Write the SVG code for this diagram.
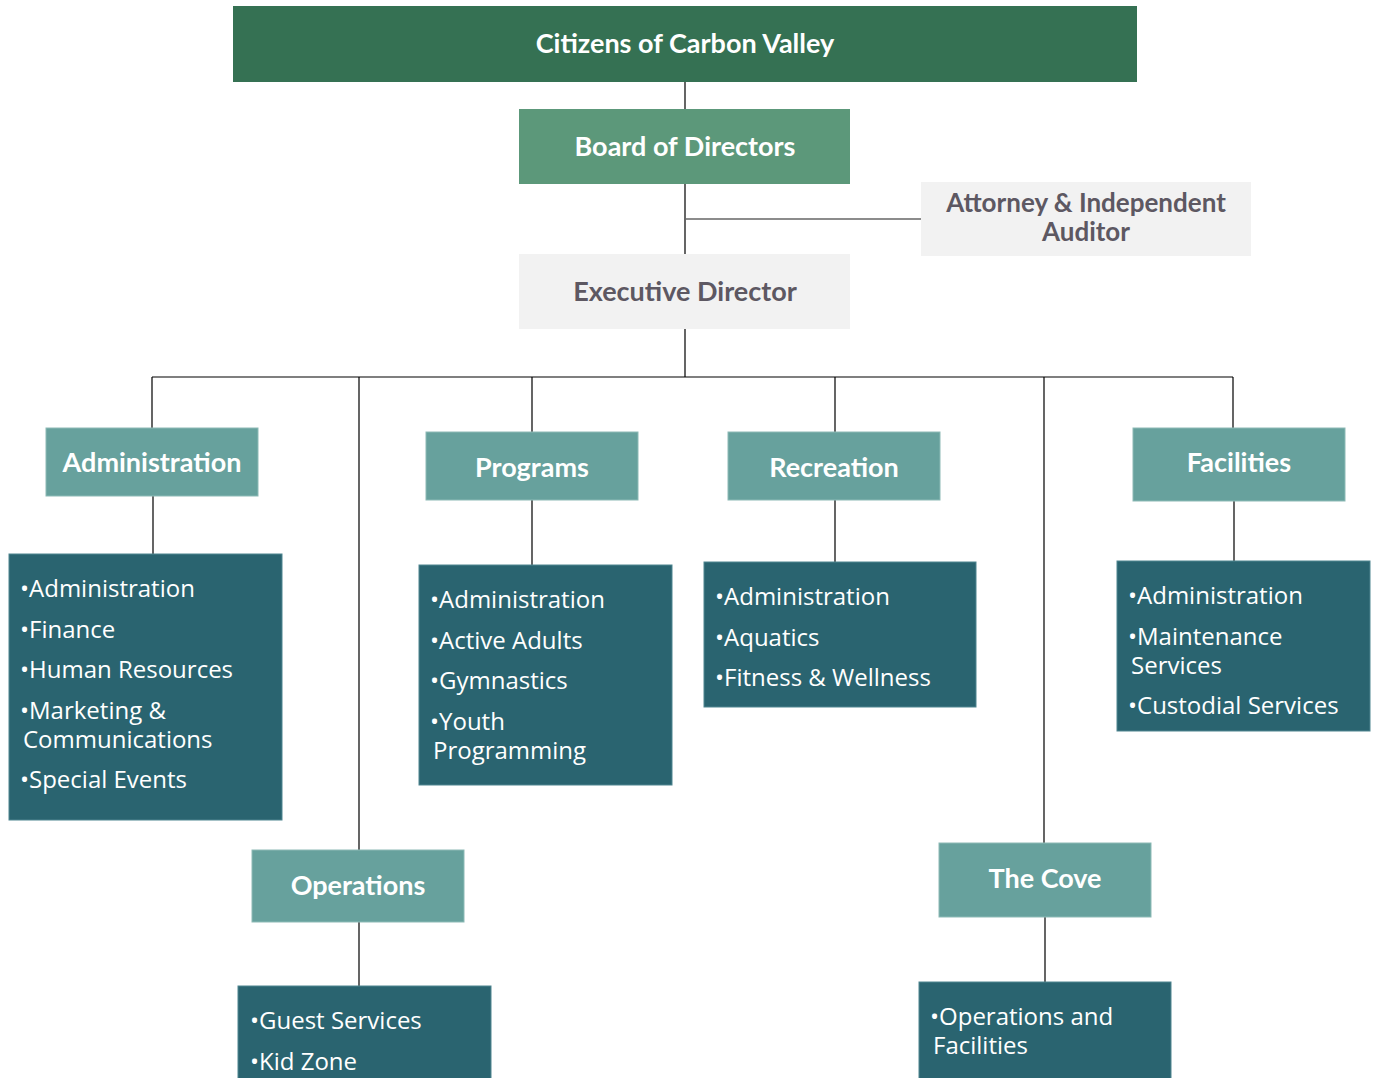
<svg xmlns="http://www.w3.org/2000/svg" width="1377" height="1078" viewBox="0 0 1377 1078">
<style>
.ttl{font-family:Lato,"Open Sans","Liberation Sans",sans-serif;font-weight:bold;font-size:27px;fill:#ffffff;text-anchor:middle}
.gray{fill:#5d5862}
.sm{font-size:26px}
.lst{font-family:"Open Sans","Noto Sans","Liberation Sans",sans-serif;font-size:24px;fill:#ffffff}
.dept{fill:#67a19d;stroke:#8dbab6;stroke-width:1}
.list{fill:#2a6470;stroke:#4f8590;stroke-width:1}
.ln{stroke:#000;stroke-width:1.2;fill:none}
</style>
<rect width="1377" height="1078" fill="#ffffff"/>
<g id="connectors">
<path class="ln" d="M685 82V254M685 329V377M152 377H1233"/>
<path d="M685 219H921" stroke="#666" stroke-width="1.5"/>
<path class="ln" d="M152 377V428M359 377V850M532 377V432M835 377V432M1044 377V843M1233 377V428"/>
<path class="ln" d="M153 496V554M532 500V565M835 500V562M1234 501V561M359 922V986M1045 917V982"/>
</g>
<g id="citizens"><rect x="233" y="6" width="904" height="76" fill="#357153"/><text class="ttl" x="685" y="53">Citizens of Carbon Valley</text></g>
<g id="board"><rect x="519" y="109" width="331" height="75" fill="#5c987a"/><text class="ttl" x="685" y="156">Board of Directors</text></g>
<g id="attorney"><rect x="921" y="182" width="330" height="74" fill="#f2f2f2"/><text class="ttl gray sm" x="1086" y="212">Attorney &amp; Independent</text><text class="ttl gray sm" x="1086" y="241">Auditor</text></g>
<g id="executive"><rect x="519" y="254" width="331" height="75" fill="#f2f2f2"/><text class="ttl gray" x="685" y="301">Executive Director</text></g>
<g id="administration"><rect class="dept" x="46" y="428" width="212" height="68"/><text class="ttl" x="152" y="472">Administration</text></g>
<g id="admin-list"><rect class="list" x="9" y="554" width="273" height="266"/>
<text class="lst" x="20" y="597">•Administration</text><text class="lst" x="20" y="638">•Finance</text><text class="lst" x="20" y="678">•Human Resources</text><text class="lst" x="20" y="719">•Marketing &amp;</text><text class="lst" x="23" y="748">Communications</text><text class="lst" x="20" y="788">•Special Events</text></g>
<g id="programs"><rect class="dept" x="426" y="432" width="212" height="68"/><text class="ttl" x="532" y="477">Programs</text></g>
<g id="programs-list"><rect class="list" x="419" y="565" width="253" height="220"/>
<text class="lst" x="430" y="608">•Administration</text><text class="lst" x="430" y="649">•Active Adults</text><text class="lst" x="430" y="689">•Gymnastics</text><text class="lst" x="430" y="730">•Youth</text><text class="lst" x="433" y="759">Programming</text></g>
<g id="recreation"><rect class="dept" x="728" y="432" width="212" height="68"/><text class="ttl" x="834" y="477">Recreation</text></g>
<g id="recreation-list"><rect class="list" x="704" y="562" width="272" height="145"/>
<text class="lst" x="715" y="605">•Administration</text><text class="lst" x="715" y="646">•Aquatics</text><text class="lst" x="715" y="686">•Fitness &amp; Wellness</text></g>
<g id="facilities"><rect class="dept" x="1133" y="428" width="212" height="73"/><text class="ttl" x="1239" y="472">Facilities</text></g>
<g id="facilities-list"><rect class="list" x="1117" y="561" width="253" height="170"/>
<text class="lst" x="1128" y="604">•Administration</text><text class="lst" x="1128" y="645">•Maintenance</text><text class="lst" x="1131" y="674">Services</text><text class="lst" x="1128" y="714">•Custodial Services</text></g>
<g id="operations"><rect class="dept" x="252" y="850" width="212" height="72"/><text class="ttl" x="358" y="895">Operations</text></g>
<g id="operations-list"><rect class="list" x="238" y="986" width="253" height="100"/>
<text class="lst" x="250" y="1029">•Guest Services</text><text class="lst" x="250" y="1070">•Kid Zone</text></g>
<g id="cove"><rect class="dept" x="939" y="843" width="212" height="74"/><text class="ttl" x="1045" y="888">The Cove</text></g>
<g id="cove-list"><rect class="list" x="919" y="982" width="252" height="100"/>
<text class="lst" x="930" y="1025">•Operations and</text><text class="lst" x="933" y="1054">Facilities</text></g>
</svg>
